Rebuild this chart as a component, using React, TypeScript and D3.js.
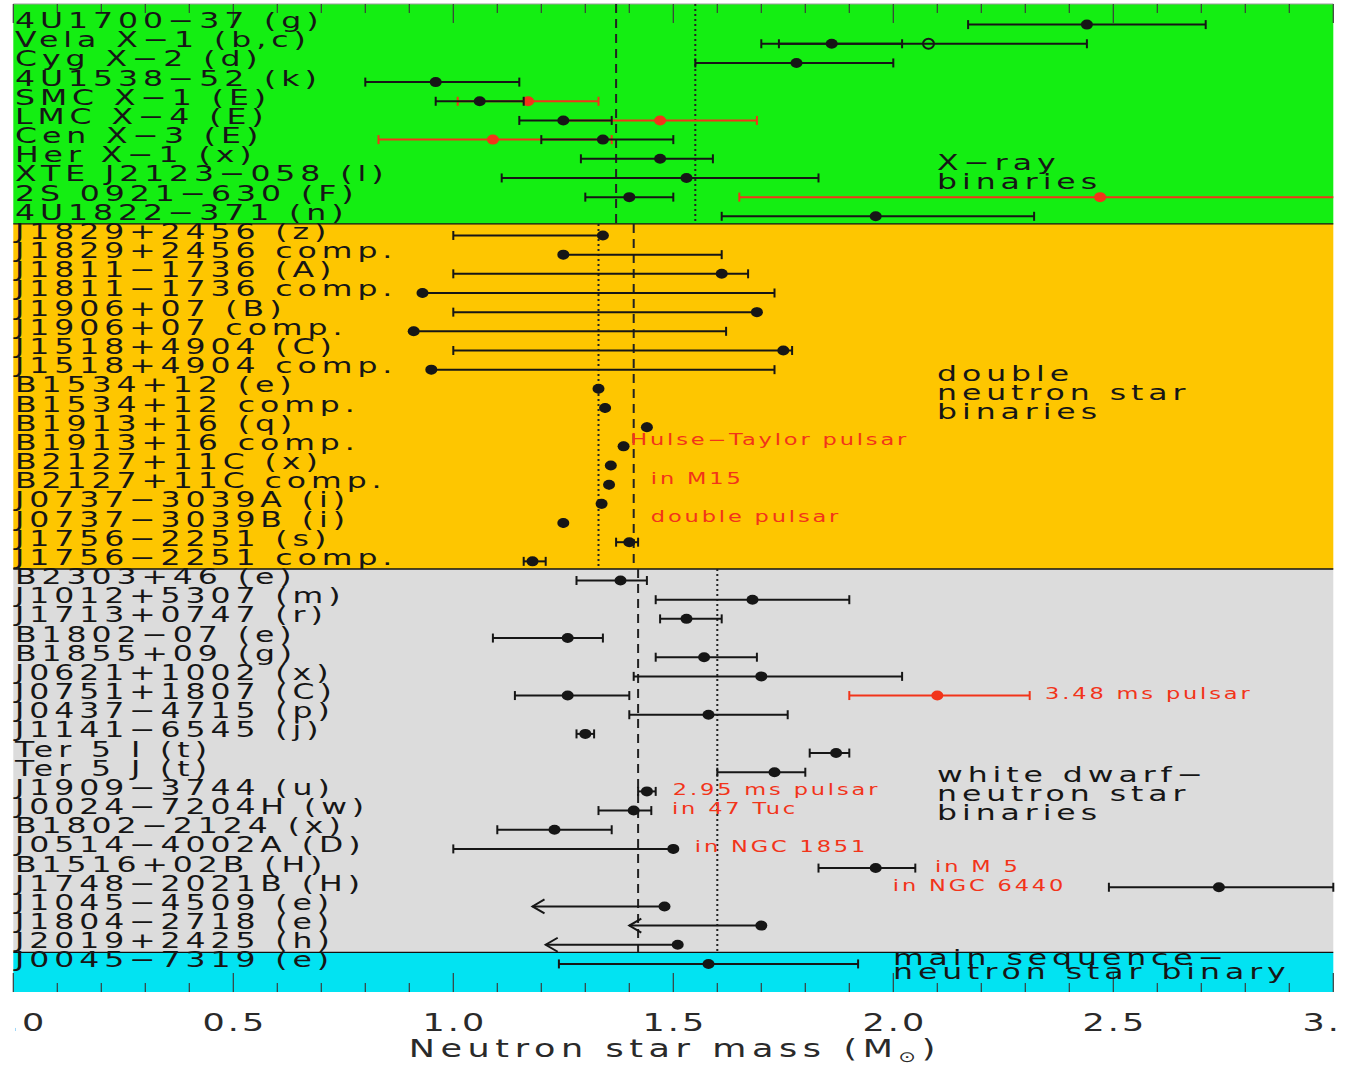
import React from "react";
import * as d3 from "d3";

type Star = { name: string; m: number; lo: number; hi: number; limit?: boolean };
type AltFit = { name: string; m: number; lo: number; hi: number; style: "red" | "open" };

// Accreting X-ray binaries
const xrayBinaries: Star[] = [
  { name: "4U1700−37 (g)", m: 2.44, lo: 2.17, hi: 2.71 },
  { name: "Vela X−1 (b,c)", m: 1.86, lo: 1.74, hi: 2.02 },
  { name: "Cyg X−2 (d)", m: 1.78, lo: 1.55, hi: 2.0 },
  { name: "4U1538−52 (k)", m: 0.96, lo: 0.8, hi: 1.15 },
  { name: "SMC X−1 (E)", m: 1.06, lo: 0.96, hi: 1.16 },
  { name: "LMC X−4 (E)", m: 1.25, lo: 1.15, hi: 1.36 },
  { name: "Cen X−3 (E)", m: 1.34, lo: 1.2, hi: 1.5 },
  { name: "Her X−1 (x)", m: 1.47, lo: 1.29, hi: 1.59 },
  { name: "XTE J2123−058 (l)", m: 1.53, lo: 1.11, hi: 1.83 },
  { name: "2S 0921−630 (F)", m: 1.4, lo: 1.3, hi: 1.5 },
  { name: "4U1822−371 (n)", m: 1.96, lo: 1.61, hi: 2.32 },
];

// Second mass solutions for some X-ray systems
const xrayAlternates: AltFit[] = [
  { name: "Vela X−1 (b,c)", m: 2.08, lo: 1.7, hi: 2.44, style: "open" },
  { name: "SMC X−1 (E)", m: 1.17, lo: 1.01, hi: 1.33, style: "red" },
  { name: "LMC X−4 (E)", m: 1.47, lo: 1.25, hi: 1.69, style: "red" },
  { name: "Cen X−3 (E)", m: 1.09, lo: 0.83, hi: 1.36, style: "red" },
  { name: "2S 0921−630 (F)", m: 2.47, lo: 1.65, hi: 3.29, style: "red" },
];

// Double neutron star binaries
const doubleNeutronStars: Star[] = [
  { name: "J1829+2456 (z)", m: 1.34, lo: 1.0, hi: 1.34 },
  { name: "J1829+2456 comp.", m: 1.25, lo: 1.25, hi: 1.61 },
  { name: "J1811−1736 (A)", m: 1.61, lo: 1.0, hi: 1.67 },
  { name: "J1811−1736 comp.", m: 0.93, lo: 0.93, hi: 1.73 },
  { name: "J1906+07 (B)", m: 1.69, lo: 1.0, hi: 1.69 },
  { name: "J1906+07 comp.", m: 0.91, lo: 0.91, hi: 1.62 },
  { name: "J1518+4904 (C)", m: 1.75, lo: 1.0, hi: 1.77 },
  { name: "J1518+4904 comp.", m: 0.95, lo: 0.95, hi: 1.73 },
  { name: "B1534+12 (e)", m: 1.33, lo: 1.33, hi: 1.33 },
  { name: "B1534+12 comp.", m: 1.345, lo: 1.345, hi: 1.345 },
  { name: "B1913+16 (q)", m: 1.44, lo: 1.44, hi: 1.44 },
  { name: "B1913+16 comp.", m: 1.387, lo: 1.387, hi: 1.387 },
  { name: "B2127+11C (x)", m: 1.358, lo: 1.358, hi: 1.358 },
  { name: "B2127+11C comp.", m: 1.354, lo: 1.354, hi: 1.354 },
  { name: "J0737−3039A (i)", m: 1.337, lo: 1.337, hi: 1.337 },
  { name: "J0737−3039B (i)", m: 1.25, lo: 1.25, hi: 1.25 },
  { name: "J1756−2251 (s)", m: 1.4, lo: 1.37, hi: 1.42 },
  { name: "J1756−2251 comp.", m: 1.18, lo: 1.16, hi: 1.21 },
];

// White dwarf – neutron star binaries
const whiteDwarfBinaries: Star[] = [
  { name: "B2303+46 (e)", m: 1.38, lo: 1.28, hi: 1.44 },
  { name: "J1012+5307 (m)", m: 1.68, lo: 1.46, hi: 1.9 },
  { name: "J1713+0747 (r)", m: 1.53, lo: 1.47, hi: 1.61 },
  { name: "B1802−07 (e)", m: 1.26, lo: 1.09, hi: 1.34 },
  { name: "B1855+09 (g)", m: 1.57, lo: 1.46, hi: 1.69 },
  { name: "J0621+1002 (x)", m: 1.7, lo: 1.41, hi: 2.02 },
  { name: "J0751+1807 (C)", m: 1.26, lo: 1.14, hi: 1.4 },
  { name: "J0437−4715 (p)", m: 1.58, lo: 1.4, hi: 1.76 },
  { name: "J1141−6545 (j)", m: 1.3, lo: 1.28, hi: 1.32 },
  { name: "Ter 5 I (t)", m: 1.87, lo: 1.81, hi: 1.9 },
  { name: "Ter 5 J (t)", m: 1.73, lo: 1.6, hi: 1.8 },
  { name: "J1909−3744 (u)", m: 1.44, lo: 1.42, hi: 1.46 },
  { name: "J0024−7204H (w)", m: 1.41, lo: 1.33, hi: 1.45 },
  { name: "B1802−2124 (x)", m: 1.23, lo: 1.1, hi: 1.36 },
  { name: "J0514−4002A (D)", m: 1.5, lo: 1.0, hi: 1.5 },
  { name: "B1516+02B (H)", m: 1.96, lo: 1.83, hi: 2.05 },
  { name: "J1748−2021B (H)", m: 2.74, lo: 2.49, hi: 3.0 },
  { name: "J1045−4509 (e)", m: 1.48, lo: 1.18, hi: 1.48, limit: true },
  { name: "J1804−2718 (e)", m: 1.7, lo: 1.4, hi: 1.7, limit: true },
  { name: "J2019+2425 (h)", m: 1.51, lo: 1.21, hi: 1.51, limit: true },
];

const pulsarAlternates: AltFit[] = [
  { name: "J0751+1807 (C)", m: 2.1, lo: 1.9, hi: 2.31, style: "red" },
];

// Main sequence – neutron star binary
const mainSequenceBinaries: Star[] = [
  { name: "J0045−7319 (e)", m: 1.58, lo: 1.24, hi: 1.92 },
];

const groupTitles = [
  ["X−ray", "binaries"],
  ["double", "neutron star", "binaries"],
  ["white dwarf−", "neutron star", "binaries"],
  ["main sequence−", "neutron star binary"],
];
// error-weighted (dashed) and simple (dotted) averages per class
const weightedMeans = [1.37, 1.41, 1.42];
const simpleMeans = [1.55, 1.33, 1.6];
const massTicks = [0, 0.5, 1, 1.5, 2, 2.5, 3];

const notes = [
  { text: "Hulse−Taylor pulsar", star: "B1913+16 comp.", m: 1.402 },
  { text: "in M15", star: "B2127+11C comp.", m: 1.449 },
  { text: "double pulsar", star: "J0737−3039B (i)", m: 1.449 },
  { text: "3.48 ms pulsar", star: "J0751+1807 (C)", m: 2.345 },
  { text: "2.95 ms pulsar", star: "J1909−3744 (u)", m: 1.499 },
  { text: "in 47 Tuc", star: "J0024−7204H (w)", m: 1.497 },
  { text: "in NGC 1851", star: "J0514−4002A (D)", m: 1.549 },
  { text: "in M 5", star: "B1516+02B (H)", m: 2.095 },
  { text: "in NGC 6440", star: "J1748−2021B (H)", m: 1.999 },
];

const W = 1348;
const H = 1066;
const plotLeft = 13.3;
const plotRight = 1333.3;
const plotTop = 4;
const plotBottom = 992;
const fills = ["#14ee12", "#fec600", "#dcdcdc", "#02e3f2"];
const RED = "#f2341a";
const INK = "#161616";
const FONT = "DejaVu Sans, sans-serif";

const groups = [xrayBinaries, doubleNeutronStars, whiteDwarfBinaries, mainSequenceBinaries];
const allRows = groups.flat();

const x = d3.scaleLinear().domain([0, 3]).range([plotLeft, plotRight]);
const rowStep = 19.17;
const y = d3
  .scalePoint<string>()
  .domain(allRows.map((r) => r.name))
  .range([24.6, 24.6 + (allRows.length - 1) * rowStep]);
const yy = (name: string) => y(name) as number;

// band boundaries between the four classes
const edges: number[] = [plotTop];
{
  let idx = 0;
  groups.forEach((g, i) => {
    idx += g.length;
    if (i < groups.length - 1) {
      edges.push((yy(allRows[idx - 1].name) + yy(allRows[idx].name)) / 2 - 2);
    }
  });
  edges.push(plotBottom);
}

// wide, vector-font style lettering: glyphs stretched horizontally
function WideText({
  x: tx,
  y: ty,
  size,
  sx = 1.5,
  ls = 3.3,
  fill = INK,
  anchor = "start",
  children,
}: {
  x: number;
  y: number;
  size: number;
  sx?: number;
  ls?: number;
  fill?: string;
  anchor?: "start" | "middle";
  children: React.ReactNode;
}) {
  const shift = anchor === "middle" ? (ls * sx) / 2 : 0;
  return (
    <text
      transform={`translate(${tx + shift},${ty}) scale(${sx},1)`}
      fontSize={size}
      fill={fill}
      textAnchor={anchor}
      style={{ letterSpacing: `${ls}px` }}
    >
      {children}
    </text>
  );
}

function ErrorBar({ s, color, open }: { s: { name: string; m: number; lo: number; hi: number; limit?: boolean }; color: string; open?: boolean }) {
  const cy = yy(s.name);
  const cap = 4.5;
  const xl = x(Math.max(0, s.lo));
  const xh = x(Math.min(3, s.hi));
  return (
    <g>
      <line x1={xl} x2={xh} y1={cy} y2={cy} stroke={color} strokeWidth={2} />
      {s.limit ? (
        <path d={`M${xl + 12},${cy - 7} L${xl},${cy} L${xl + 12},${cy + 7}`} fill="none" stroke={color} strokeWidth={2} />
      ) : (
        s.lo >= 0 && <line x1={xl} x2={xl} y1={cy - cap} y2={cy + cap} stroke={color} strokeWidth={2} />
      )}
      {s.hi <= 3 && !s.limit && <line x1={xh} x2={xh} y1={cy - cap} y2={cy + cap} stroke={color} strokeWidth={2} />}
      {open ? (
        <ellipse cx={x(s.m)} cy={cy} rx={5.5} ry={5} fill="none" stroke={color} strokeWidth={2} />
      ) : (
        <ellipse cx={x(s.m)} cy={cy} rx={6} ry={5} fill={color} />
      )}
    </g>
  );
}

export default function App() {
  const minorTicks = d3.range(0, 3.0001, 0.1);
  const titleX = [937, 937, 937, 893];
  const titleY = [170, 381, 782, 965];
  const titleGap = [19, 19, 19, 14];

  return (
    <svg
      width={W}
      height={H}
      viewBox={`0 0 ${W} ${H}`}
      style={{ position: "absolute", left: 0, top: 0, background: "#fff" }}
      fontFamily={FONT}
    >
      <defs>
        <clipPath id="figure-frame">
          <rect x={15} y={0} width={1322} height={H} />
        </clipPath>
      </defs>

      {/* class bands */}
      {fills.map((f, i) => (
        <rect key={i} x={plotLeft} y={edges[i]} width={plotRight - plotLeft} height={edges[i + 1] - edges[i]} fill={f} />
      ))}
      {edges.slice(1, -1).map((e, i) => (
        <line key={i} x1={plotLeft} x2={plotRight} y1={e} y2={e} stroke="#111" strokeWidth={1.4} />
      ))}
      <line x1={plotLeft} x2={plotRight} y1={plotTop} y2={plotTop} stroke="#9a9a9a" strokeWidth={1} />

      {/* axis ticks, top and bottom */}
      {minorTicks.map((t, i) => {
        const major = Math.abs(t * 2 - Math.round(t * 2)) < 1e-6;
        const len = major ? 19 : 9;
        return (
          <g key={i} stroke="#3c3c3c" strokeWidth={1.2}>
            <line x1={x(t)} x2={x(t)} y1={plotBottom} y2={plotBottom - len} />
            <line x1={x(t)} x2={x(t)} y1={plotTop} y2={plotTop + len} />
          </g>
        );
      })}

      {/* class averages */}
      {weightedMeans.map((m, i) => (
        <line key={"w" + i} x1={x(m)} x2={x(m)} y1={edges[i]} y2={edges[i + 1]} stroke="#222" strokeWidth={2} strokeDasharray="9,6" />
      ))}
      {simpleMeans.map((m, i) => (
        <line key={"s" + i} x1={x(m)} x2={x(m)} y1={edges[i]} y2={edges[i + 1]} stroke="#222" strokeWidth={2} strokeDasharray="2,3" />
      ))}

      {/* row labels */}
      {allRows.map((r) => (
        <WideText key={r.name} x={15} y={yy(r.name) + 3.5} size={21}>
          {r.name}
        </WideText>
      ))}

      {/* alternate fits drawn beneath the main ones */}
      {[...xrayAlternates, ...pulsarAlternates].map((a, i) => (
        <ErrorBar key={"a" + i} s={a} color={a.style === "red" ? RED : INK} open={a.style === "open"} />
      ))}
      {allRows.map((r) => (
        <ErrorBar key={"e" + r.name} s={r} color={INK} />
      ))}

      {/* class titles */}
      {groupTitles.map((lines, g) =>
        lines.map((t, i) => (
          <WideText key={`t${g}-${i}`} x={titleX[g]} y={titleY[g] + i * titleGap[g]} size={21}>
            {t}
          </WideText>
        ))
      )}

      {/* annotations */}
      {notes.map((n, i) => {
        const base = yy(n.star);
        const dy = ["B1913+16 comp.", "B2127+11C comp.", "J0737−3039B (i)"].includes(n.star) ? -6 : -1.5;
        return (
          <WideText key={"n" + i} x={x(n.m)} y={base + dy + 5} size={15} ls={1.9} fill={RED}>
            {n.text}
          </WideText>
        );
      })}

      {/* x axis labels, trimmed at the figure's side edges */}
      <g clipPath="url(#figure-frame)">
        {massTicks.map((t) => (
          <WideText key={"l" + t} x={x(t)} y={1031} size={25} sx={1.4} ls={2.2} fill="#2a2a2a" anchor="middle">
            {t.toFixed(1)}
          </WideText>
        ))}
      </g>
      <WideText x={672} y={1057} size={25} sx={1.4} ls={4} fill="#2a2a2a" anchor="middle">
        Neutron star mass (M<tspan fontSize={15} dy={5}>⊙</tspan>
        <tspan dy={-5}>)</tspan>
      </WideText>
    </svg>
  );
}
